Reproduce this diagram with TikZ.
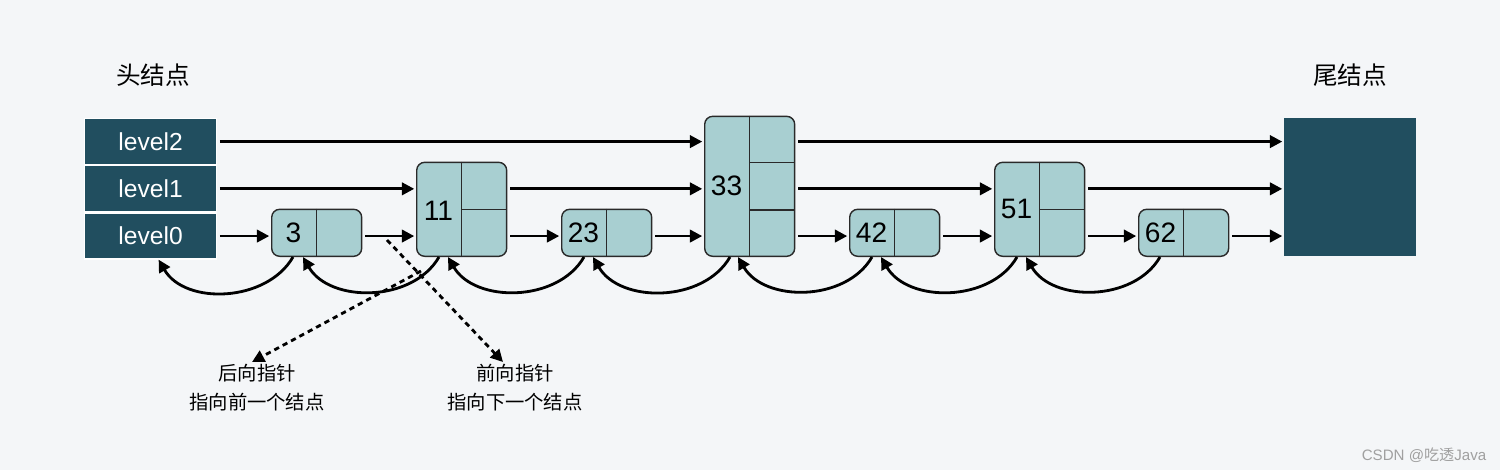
\documentclass[tikz,border=0pt]{standalone}
\usepackage{fontspec}
\setmainfont{Liberation Sans}
\newfontfamily\cjk{Noto Sans CJK SC}
\usepackage{tikz}
\usetikzlibrary{arrows.meta,positioning,calc}
\definecolor{PageGrey}{HTML}{F4F6F8}
\definecolor{HeadTeal}{HTML}{214E5F}
\definecolor{CellTeal}{HTML}{A8CFD1}
\definecolor{EdgeGrey}{HTML}{2A2A2A}
\definecolor{MarkGrey}{HTML}{A0A0A0}

\begin{document}
\begin{tikzpicture}[
x=0.02cm,y=-0.02cm,
headcell/.style={draw=white,line width=0.7pt,fill=HeadTeal,minimum width=2.64cm,minimum height=0.92cm,inner sep=0pt,text=white,font=\fontsize{14}{16}\selectfont},
tailbox/.style={fill=HeadTeal,minimum width=2.64cm,minimum height=2.76cm,inner sep=0pt},
skip/.style={draw=EdgeGrey,line width=0.8pt,fill=CellTeal,rounded corners=0.16cm,minimum width=1.8cm,inner sep=0pt,anchor=south west},
cellline/.style={draw=EdgeGrey,line width=0.8pt},
numtxt/.style={inner sep=0pt,font=\fontsize{16}{18}\selectfont},
title/.style={font=\cjk\fontsize{14}{16}\selectfont},
note/.style={align=center,inner sep=1pt,font=\cjk\fontsize{11}{16.4}\selectfont},
arrow/.style={-{Triangle[length=7pt,width=7pt]},line width=1.6pt,shorten <=1.5pt,shorten >=1pt},
backarrow/.style={-{Triangle[length=7pt,width=7pt]},line width=1.6pt},
pointer/.style={-{Triangle[length=7pt,width=7pt]},line width=1.6pt,dash pattern=on 3pt off 2.4pt}
]
\fill[PageGrey] (0,0) rectangle (1500,470);
\useasboundingbox (0,0) rectangle (1500,470);

\node[title] (headtitle) at (153,75) {头结点};
\node[title] (tailtitle) at (1350,75) {尾结点};

\node[headcell,anchor=north west] (h2) at (84,118) {level2};
\node[headcell,below=0pt of h2] (h1) {level1};
\node[headcell,below=0pt of h1] (h0) {level0};
\node[tailbox,anchor=north west] (tail) at (1284,118) {};

\node[skip,minimum height=0.94cm] (n3) at (271,257) {};
\node[skip,minimum height=1.88cm] (n11) at (416,257) {};
\node[skip,minimum height=0.94cm] (n23) at (561,257) {};
\node[skip,minimum height=2.8cm] (n33) at (704,257) {};
\node[skip,minimum height=0.94cm] (n42) at (849,257) {};
\node[skip,minimum height=1.88cm] (n51) at (994,257) {};
\node[skip,minimum height=0.94cm] (n62) at (1138,257) {};

\draw[cellline] (n3.north) -- (n3.south);
\draw[cellline] (n11.north) -- (n11.south) (n11.center) -- (n11.east);
\draw[cellline] (n23.north) -- (n23.south);
\draw[cellline] (n33.north) -- (n33.south);
\draw[cellline] ($(n33.north)!1/3!(n33.south)$) -- ($(n33.north east)!1/3!(n33.south east)$);
\draw[cellline] ($(n33.north)!2/3!(n33.south)$) -- ($(n33.north east)!2/3!(n33.south east)$);
\draw[cellline] (n42.north) -- (n42.south);
\draw[cellline] (n51.north) -- (n51.south) (n51.center) -- (n51.east);
\draw[cellline] (n62.north) -- (n62.south);

\node[numtxt] (t3) at ([xshift=0.45cm]n3.west) {3};
\node[numtxt] (t11) at ([xshift=0.45cm,yshift=-0.04cm]n11.west) {11};
\node[numtxt] (t23) at ([xshift=0.45cm]n23.west) {23};
\node[numtxt] (t33) at ([xshift=0.45cm]n33.west) {33};
\node[numtxt] (t42) at ([xshift=0.45cm]n42.west) {42};
\node[numtxt] (t51) at ([xshift=0.45cm]n51.west) {51};
\node[numtxt] (t62) at ([xshift=0.45cm]n62.west) {62};

\draw[arrow] (h2.east) -- (n33.west |- h2.east);
\draw[arrow] (n33.east |- h2.east) -- (tail.west |- h2.east);

\draw[arrow] (h1.east) -- (n11.west |- h1.east);
\draw[arrow] (n11.east |- h1.east) -- (n33.west |- h1.east);
\draw[arrow] (n33.east |- h1.east) -- (n51.west |- h1.east);
\draw[arrow] (n51.east |- h1.east) -- (tail.west |- h1.east);

\draw[arrow] (h0.east) -- (n3.west |- h0.east);
\draw[arrow] (n3.east |- h0.east) -- (n11.west |- h0.east);
\draw[arrow] (n11.east |- h0.east) -- (n23.west |- h0.east);
\draw[arrow] (n23.east |- h0.east) -- (n33.west |- h0.east);
\draw[arrow] (n33.east |- h0.east) -- (n42.west |- h0.east);
\draw[arrow] (n42.east |- h0.east) -- (n51.west |- h0.east);
\draw[arrow] (n51.east |- h0.east) -- (n62.west |- h0.east);
\draw[arrow] (n62.east |- h0.east) -- (tail.west |- h0.east);

\draw[backarrow] ([xshift=0.44cm]n3.south west) to[out=-120,in=-60] ([xshift=0.16cm]h0.south);
\draw[backarrow] ([xshift=0.46cm]n11.south west) to[out=-120,in=-60] ([xshift=0.64cm]n3.south west);
\draw[backarrow] ([xshift=0.46cm]n23.south west) to[out=-120,in=-60] ([xshift=0.64cm]n11.south west);
\draw[backarrow] ([xshift=0.52cm]n33.south west) to[out=-120,in=-60] ([xshift=0.64cm]n23.south west);
\draw[backarrow] ([xshift=0.46cm]n42.south west) to[out=-120,in=-60] ([xshift=0.68cm]n33.south west);
\draw[backarrow] ([xshift=0.46cm]n51.south west) to[out=-120,in=-60] ([xshift=0.64cm]n42.south west);
\draw[backarrow] ([xshift=0.44cm]n62.south west) to[out=-120,in=-60] ([xshift=0.64cm]n51.south west);

\node[note,anchor=north] (backnote) at (257,362) {后向指针\\指向前一个结点};
\node[note,anchor=north] (nextnote) at (515,362) {前向指针\\指向下一个结点};
\coordinate (backfrom) at (421,271);
\coordinate (nextfrom) at (387,240);
\draw[pointer] (backfrom) -- ([xshift=-0.1cm]backnote.north);
\draw[pointer] (nextfrom) -- ([xshift=-0.24cm]nextnote.north);

\node[text=MarkGrey,font=\fontsize{8.6}{10}\selectfont] (mark) at (1424,455) {CSDN @{\cjk 吃透}Java};
\end{tikzpicture}
\end{document}
